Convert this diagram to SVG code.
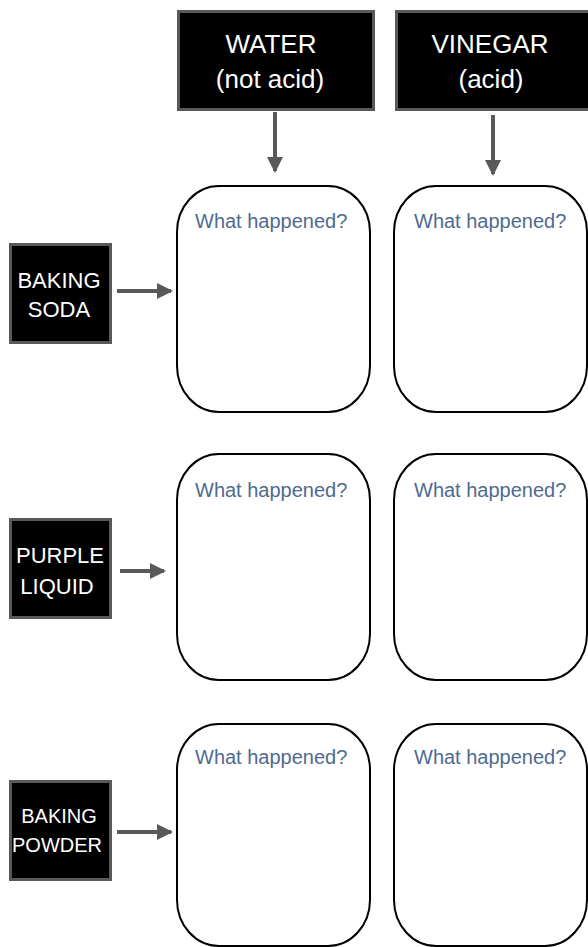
<svg xmlns="http://www.w3.org/2000/svg" width="588" height="947" viewBox="0 0 588 947">
<style>
.hdr{fill:#000;stroke:#595959;stroke-width:3}
.lbl{fill:#fff;font-family:"Liberation Sans",Arial,sans-serif;text-anchor:middle}
.cell{fill:#fff;stroke:#000;stroke-width:2}
.q{fill:#4f6a8f;font-family:"Liberation Sans",Arial,sans-serif;font-size:20px}
.arr{stroke:#595959;stroke-width:4;fill:none}
</style>
<defs>
<marker id="ah" markerWidth="4" markerHeight="4" refX="3.5" refY="2" orient="auto" markerUnits="strokeWidth">
<path d="M0,0 L4,2 L0,4 Z" fill="#595959"/>
</marker>
</defs>
<g id="water">
<rect class="hdr" x="178.5" y="11.5" width="195" height="98"/>
<text class="lbl" x="271" y="53" font-size="26">WATER</text>
<text class="lbl" x="270" y="88" font-size="26">(not acid)</text>
</g>
<g id="vinegar">
<rect class="hdr" x="396.5" y="11.5" width="193" height="98"/>
<text class="lbl" x="490" y="53" font-size="26">VINEGAR</text>
<text class="lbl" x="491" y="88" font-size="26">(acid)</text>
</g>
<g id="baking-soda">
<rect class="hdr" x="10.5" y="244.5" width="100" height="98"/>
<text class="lbl" x="59" y="288" font-size="22">BAKING</text>
<text class="lbl" x="59" y="317" font-size="22">SODA</text>
</g>
<g id="purple-liquid">
<rect class="hdr" x="10.5" y="519.5" width="100" height="98"/>
<text class="lbl" x="60" y="563" font-size="22">PURPLE</text>
<text class="lbl" x="57" y="594" font-size="22">LIQUID</text>
</g>
<g id="baking-powder">
<rect class="hdr" x="10.5" y="781.5" width="100" height="98"/>
<text class="lbl" x="59" y="823" font-size="20">BAKING</text>
<text class="lbl" x="57" y="852" font-size="20">POWDER</text>
</g>
<g id="cell-soda-water">
<rect class="cell" x="177" y="186" width="193" height="226" rx="42" ry="46"/>
<text class="q" x="195" y="228">What happened?</text>
</g>
<g id="cell-soda-vinegar">
<rect class="cell" x="394" y="186" width="193" height="226" rx="42" ry="46"/>
<text class="q" x="414" y="228">What happened?</text>
</g>
<g id="cell-purple-water">
<rect class="cell" x="177" y="454" width="193" height="226" rx="42" ry="46"/>
<text class="q" x="195" y="497">What happened?</text>
</g>
<g id="cell-purple-vinegar">
<rect class="cell" x="394" y="454" width="193" height="226" rx="42" ry="46"/>
<text class="q" x="414" y="497">What happened?</text>
</g>
<g id="cell-powder-water">
<rect class="cell" x="177" y="724" width="193" height="222" rx="42" ry="46"/>
<text class="q" x="195" y="764">What happened?</text>
</g>
<g id="cell-powder-vinegar">
<rect class="cell" x="394" y="724" width="193" height="222" rx="42" ry="46"/>
<text class="q" x="414" y="764">What happened?</text>
</g>
<g id="connectors">
<line class="arr" x1="275" y1="112" x2="275" y2="171" marker-end="url(#ah)"/>
<line class="arr" x1="493" y1="115" x2="493" y2="174" marker-end="url(#ah)"/>
<line class="arr" x1="117" y1="291" x2="171" y2="291" marker-end="url(#ah)"/>
<line class="arr" x1="120" y1="571" x2="164" y2="571" marker-end="url(#ah)"/>
<line class="arr" x1="117" y1="832" x2="171" y2="832" marker-end="url(#ah)"/>
</g>
</svg>
